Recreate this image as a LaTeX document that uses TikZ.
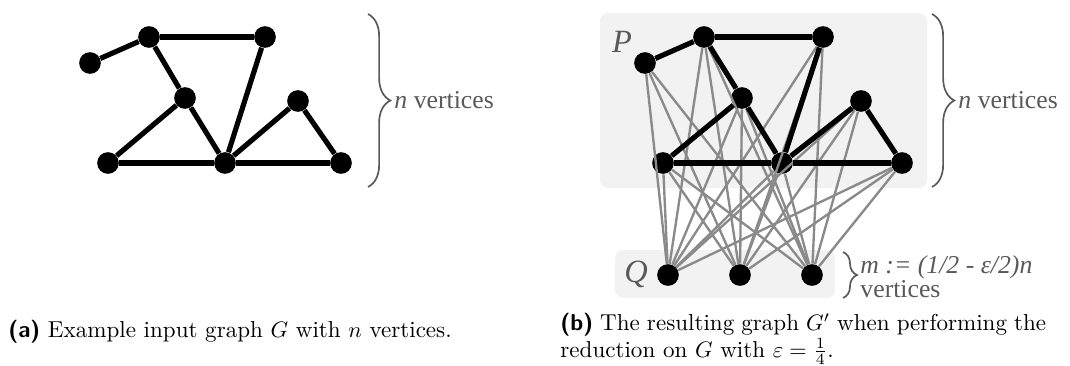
\documentclass[tikz,border=0pt]{standalone}
\usepackage{fontspec}
\newfontfamily\lblfont{Liberation Serif}
\usetikzlibrary{decorations.pathreplacing, positioning}
\definecolor{cedge}{HTML}{8A8A8A}
\definecolor{cbox}{HTML}{F2F2F2}
\definecolor{clabel}{HTML}{595959}
\tikzset{
  vertex/.style={circle, fill=black, inner sep=0pt, minimum size=0.34cm},
  gedge/.style={line width=2.3pt, draw=black},
  bipedge/.style={line width=1.05pt, draw=cedge},
  part/.style={fill=cbox, rounded corners=3.5pt},
  sidebrace/.style={decorate, decoration={brace, amplitude=#1}, draw=clabel, line width=0.75pt},
  lbl/.style={font=\lblfont\fontsize{11.5}{10.8}\selectfont, text=clabel, align=left, inner sep=0pt, anchor=west},
  setname/.style={font=\lblfont\itshape\fontsize{14.5}{14.5}\selectfont, text=clabel, inner sep=0pt},
  subcap/.style={inner sep=0pt, anchor=north west, font=\fontsize{10.3}{11.8}\selectfont},
}
\begin{document}
\begin{tikzpicture}[x=0.0157cm, y=-0.0157cm]
  \useasboundingbox (0,0) rectangle (1070,365);
  % the two vertex sets
  \fill[part] (600,13) rectangle (927,188);
  \fill[part] (615,250) rectangle (835,298);
  \node[setname] (lp) at (622,42) {P};
  \node[setname] (lq) at (636,274) {Q};
  % input graph G
  \foreach \n/\x/\y in {1/90/63, 2/149/37, 3/265/37, 4/185/98, 5/298/101, 6/108/163, 7/225/163, 8/341/163}
    \node[vertex] (a\n) at (\x,\y) {};
  % G' : copy of G plus Q
  \foreach \n/\x/\y in {1/645/63, 2/704/37, 3/823/37, 4/742/98, 5/861/101, 6/663/163, 7/782/163, 8/902/163}
    \node[vertex] (p\n) at (\x,\y) {};
  \foreach \n/\x in {1/668, 2/740, 3/812}
    \node[vertex] (q\n) at (\x,275) {};
  \foreach \i in {1,...,8}
    \foreach \j in {1,2,3}
      \draw[bipedge] (p\i) -- (q\j);
  \foreach \u/\v in {1/2, 2/3, 2/4, 3/7, 4/6, 4/7, 6/7, 7/8, 7/5, 5/8} {
    \draw[gedge] (a\u) -- (a\v);
    \draw[gedge] (p\u) -- (p\v);
  }
  % braces and counts
  \draw[sidebrace=0.35cm] (368,14) -- (368,187);
  \node[lbl] (na) at (394,100) {\itshape n\upshape{} vertices};
  \draw[sidebrace=0.35cm] (932,14) -- (932,187);
  \node[lbl] (nb) at (958,100) {\itshape n\upshape{} vertices};
  \draw[sidebrace=0.22cm] (843,252) -- (843,298);
  \node[lbl] (m) at (860,277) {\itshape m := (1/2 - ε/2)n\\vertices};
  % captions
  \node[subcap] (capa) at (8,320) {\textsf{\textbf{(a)}} Example input graph $G$ with $n$ vertices.};
  \node[subcap, text width=217pt, align=justify] (capb) at (560,313) {\textsf{\textbf{(b)}} The resulting graph $G'$ when performing the\linebreak reduction on $G$ with $\varepsilon=\frac{1}{4}$.};
\end{tikzpicture}
\end{document}
